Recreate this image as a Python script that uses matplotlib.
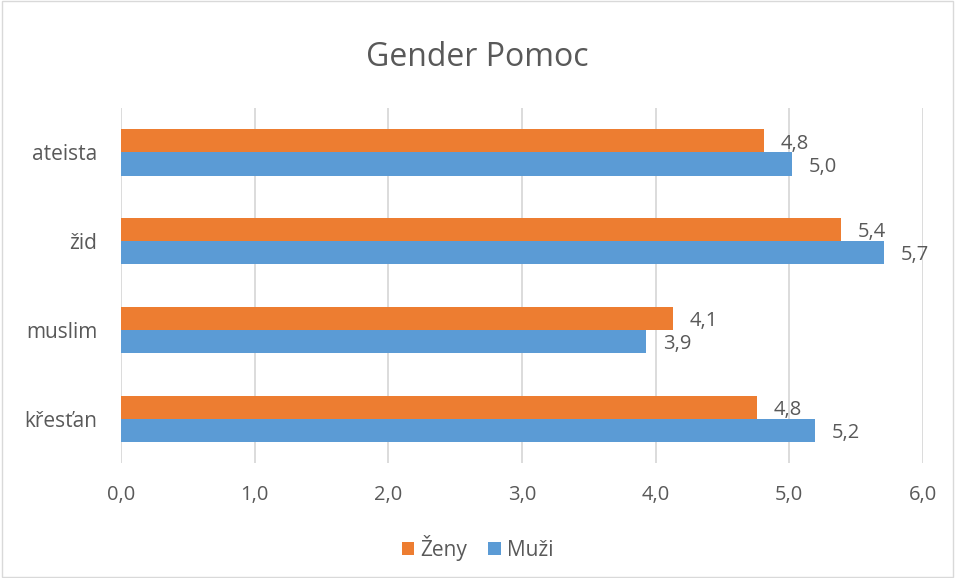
import numpy as np
import matplotlib
matplotlib.use("Agg")
from matplotlib import pyplot as plt
from matplotlib.patches import Rectangle

categories = ["křesťan", "muslim", "žid", "ateista"]
zeny = [4.76, 4.13, 5.39, 4.81]
muzi = [5.19, 3.93, 5.71, 5.02]
zeny_labels = ["4,8", "4,1", "5,4", "4,8"]
muzi_labels = ["5,2", "3,9", "5,7", "5,0"]
x_ticks = [0, 1, 2, 3, 4, 5, 6]
x_ticklabels = ["0,0", "1,0", "2,0", "3,0", "4,0", "5,0", "6,0"]

plt.rcParams['font.family'] = ['Open Sans', 'DejaVu Sans']
text_col = "#595959"
orange = "#ED7D31"
blue = "#5B9BD5"

fig = plt.figure(figsize=(9.55, 5.78), dpi=100)
fig.patches.append(Rectangle((0.002, 0.002), 0.996, 0.996, transform=fig.transFigure,
                             fill=False, edgecolor="#D9D9D9", lw=1))
ax = fig.add_axes([0.1267, 0.199, 0.8398, 0.614])

y = np.arange(len(categories))
h = 0.26
ax.barh(y + h / 2, zeny, height=h, color=orange, label="Ženy", zorder=3)
ax.barh(y - h / 2, muzi, height=h, color=blue, label="Muži", zorder=3)

# data labels just right of each bar end
for i in range(len(categories)):
    ax.annotate(zeny_labels[i], (zeny[i], y[i] + h / 2), xytext=(12, -2),
                textcoords="offset points", va="center", ha="left",
                fontsize=14.5, color=text_col)
    ax.annotate(muzi_labels[i], (muzi[i], y[i] - h / 2), xytext=(12, -2),
                textcoords="offset points", va="center", ha="left",
                fontsize=14.5, color=text_col)

ax.set_xlim(0, 6)
ax.set_ylim(-0.5, 3.5)
ax.set_xticks(x_ticks)
ax.set_xticklabels(x_ticklabels, fontsize=14.5, color=text_col)
ax.set_yticks(y)
ax.set_yticklabels(categories, fontsize=15, color=text_col)
ax.tick_params(length=0, pad=16)
ax.tick_params(axis="y", pad=17)
ax.grid(axis="x", color="#D9D9D9", lw=1.3, zorder=0)
for s in ax.spines.values():
    s.set_visible(False)

fig.text(0.5, 0.9, "Gender Pomoc", ha="center", va="center", fontsize=23, color=text_col)

fig.legend(loc="center", bbox_to_anchor=(0.5, 0.052), ncol=2, frameon=False,
           fontsize=15, handlelength=0.6, handleheight=0.6, handletextpad=0.3,
           columnspacing=1.0, labelcolor=text_col)

fig.savefig("out.png", dpi=100)
